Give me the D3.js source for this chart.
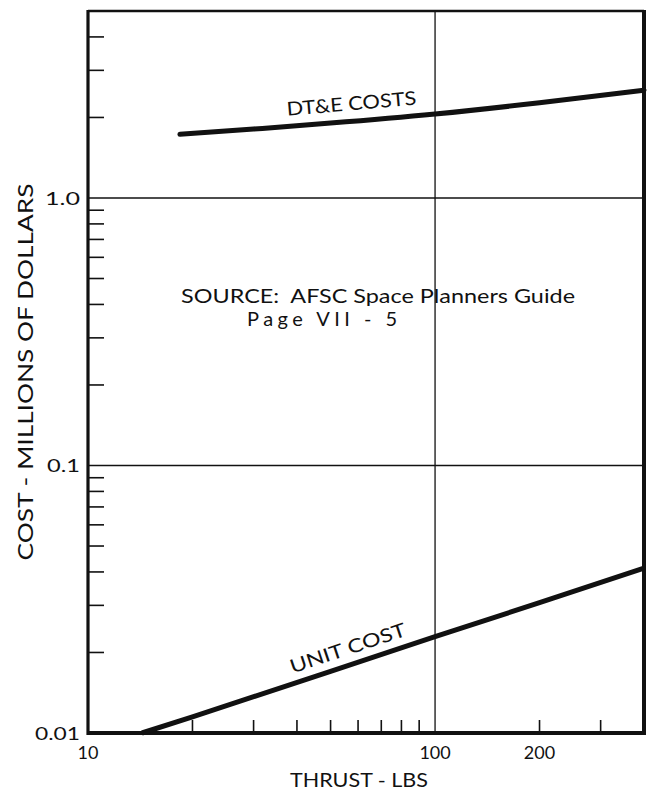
<!DOCTYPE html>
<html><head><meta charset="utf-8">
<script src="https://cdn.jsdelivr.net/npm/d3@7"></script>
<style>
body{margin:0;background:#fff}
text{font-family:Lato,"Open Sans",sans-serif;fill:#111;white-space:pre}
</style></head>
<body>
<svg id="c" width="655" height="798"></svg>
<script>
// ---- data ----
const thrustDTE = [18.4, 30, 50, 100, 200, 400];
const costDTE   = [1.73, 1.81, 1.905, 2.06, 2.27, 2.53];
const thrustUnit = [14.3, 20, 50, 100, 200, 400];
const costUnit   = [0.0100, 0.0115, 0.0170, 0.0229, 0.0307, 0.0413];
const xTickValues = [10, 100, 200];
const xTickLabels = ["10", "100", "200"];
const yTickValues = [0.01, 0.1, 1];
const yTickLabels = ["0.01", "0.1", "1.0"];
const xMinorTicks = [20, 30, 40, 50, 60, 70, 80, 90, 200, 300];
const yMinorTicks = [0.02,0.03,0.04,0.05,0.06,0.07,0.08,0.09,0.2,0.3,0.4,0.5,0.6,0.7,0.8,0.9,2,3,4];
const xGrid = [100];
const yGrid = [0.1, 1];

const svg = d3.select("#c");
const x = d3.scaleLog().domain([10, 400]).range([88, 644]);
const y = d3.scaleLog().domain([0.01, 5]).range([733, 11]);
const [x0, x1] = x.range();
const [y0, y1] = y.range();

// grid
svg.selectAll(".gx").data(xGrid).join("line")
  .attr("x1", d => x(d)).attr("x2", d => x(d)).attr("y1", y1).attr("y2", y0)
  .attr("stroke", "#111").attr("stroke-width", 1.3);
svg.selectAll(".gy").data(yGrid).join("line")
  .attr("x1", x0).attr("x2", x1).attr("y1", d => y(d)).attr("y2", d => y(d))
  .attr("stroke", "#111").attr("stroke-width", 1.3);

// minor ticks
svg.selectAll(".mx").data(xMinorTicks).join("line")
  .attr("x1", d => x(d)).attr("x2", d => x(d)).attr("y1", y0).attr("y2", y0 - 13)
  .attr("stroke", "#111").attr("stroke-width", 1.6);
svg.selectAll(".my").data(yMinorTicks).join("line")
  .attr("x1", x0).attr("x2", x0 + 16).attr("y1", d => y(d)).attr("y2", d => y(d))
  .attr("stroke", "#111").attr("stroke-width", 1.6);

// frame
svg.append("line").attr("x1", x0).attr("x2", x1).attr("y1", y1).attr("y2", y1)
  .attr("stroke", "#111").attr("stroke-width", 2.5);
svg.append("line").attr("x1", x0).attr("x2", x0).attr("y1", y1 - 1).attr("y2", y0 + 2)
  .attr("stroke", "#111").attr("stroke-width", 3.2);
svg.append("line").attr("x1", x1).attr("x2", x1).attr("y1", y1 - 1).attr("y2", y0 + 2)
  .attr("stroke", "#111").attr("stroke-width", 4);
svg.append("line").attr("x1", x0 - 1).attr("x2", x1 + 2).attr("y1", y0).attr("y2", y0)
  .attr("stroke", "#111").attr("stroke-width", 4);

// curves
const line = d3.line().x(d => x(d[0])).y(d => y(d[1])).curve(d3.curveNatural);
svg.append("path").datum(thrustDTE.map((t, i) => [t, costDTE[i]]))
  .attr("d", line).attr("fill", "none").attr("stroke", "#111")
  .attr("stroke-width", 5).attr("stroke-linecap", "round");
svg.append("path").datum(thrustUnit.map((t, i) => [t, costUnit[i]]))
  .attr("d", d3.line().x(d => x(d[0])).y(d => y(d[1])))
  .attr("fill", "none").attr("stroke", "#111").attr("stroke-width", 5);

// curve labels along lines
function curveLabel(txt, ts, vs, tAt, off, len) {
  const i = d3.bisectRight(ts, tAt) - 1;
  const ax = x(ts[i]), ay = y(vs[i]), bx = x(ts[i+1]), by = y(vs[i+1]);
  const px = x(tAt);
  const py = ay + (by - ay) * (px - ax) / (bx - ax);
  const ang = Math.atan2(by - ay, bx - ax) * 180 / Math.PI;
  svg.append("text")
    .attr("transform", `translate(${px},${py}) rotate(${ang}) translate(0,${-off})`)
    .attr("text-anchor", "middle").attr("font-size", 19)
    .attr("textLength", len).attr("lengthAdjust", "spacingAndGlyphs")
    .text(txt);
}
curveLabel("DT&E COSTS", thrustDTE, costDTE, 58, 11, 130);
curveLabel("UNIT COST", thrustUnit, costUnit, 58, 10, 121);

// tick labels
svg.selectAll(".xl").data(xTickValues).join("text")
  .attr("x", d => x(d)).attr("y", 759).attr("text-anchor", "middle")
  .attr("font-size", 18).text((d, i) => xTickLabels[i]);
svg.selectAll(".yl").data(yTickValues).join("text")
  .attr("x", 80).attr("y", d => y(d) + 7).attr("text-anchor", "end")
  .attr("font-size", 18)
  .attr("textLength", (d, i) => [45, 33, 35][i]).attr("lengthAdjust", "spacingAndGlyphs")
  .text((d, i) => yTickLabels[i]);

// axis titles
svg.append("text").attr("x", 359).attr("y", 787).attr("text-anchor", "middle")
  .attr("font-size", 20).attr("textLength", 138).attr("lengthAdjust", "spacingAndGlyphs")
  .text("THRUST - LBS");
svg.append("text").attr("transform", "translate(33,372) rotate(-90)")
  .attr("text-anchor", "middle").attr("font-size", 21)
  .attr("textLength", 377).attr("lengthAdjust", "spacingAndGlyphs")
  .text("COST - MILLIONS OF DOLLARS");

// source note
svg.append("text").attr("x", 181).attr("y", 303).attr("font-size", 20)
  .attr("textLength", 394).attr("lengthAdjust", "spacingAndGlyphs")
  .text("SOURCE:  AFSC Space Planners Guide");
svg.append("text").attr("x", 247).attr("y", 326).attr("font-size", 20)
  .attr("textLength", 150).attr("lengthAdjust", "spacing")
  .text("Page VII - 5");
</script>
</body></html>
